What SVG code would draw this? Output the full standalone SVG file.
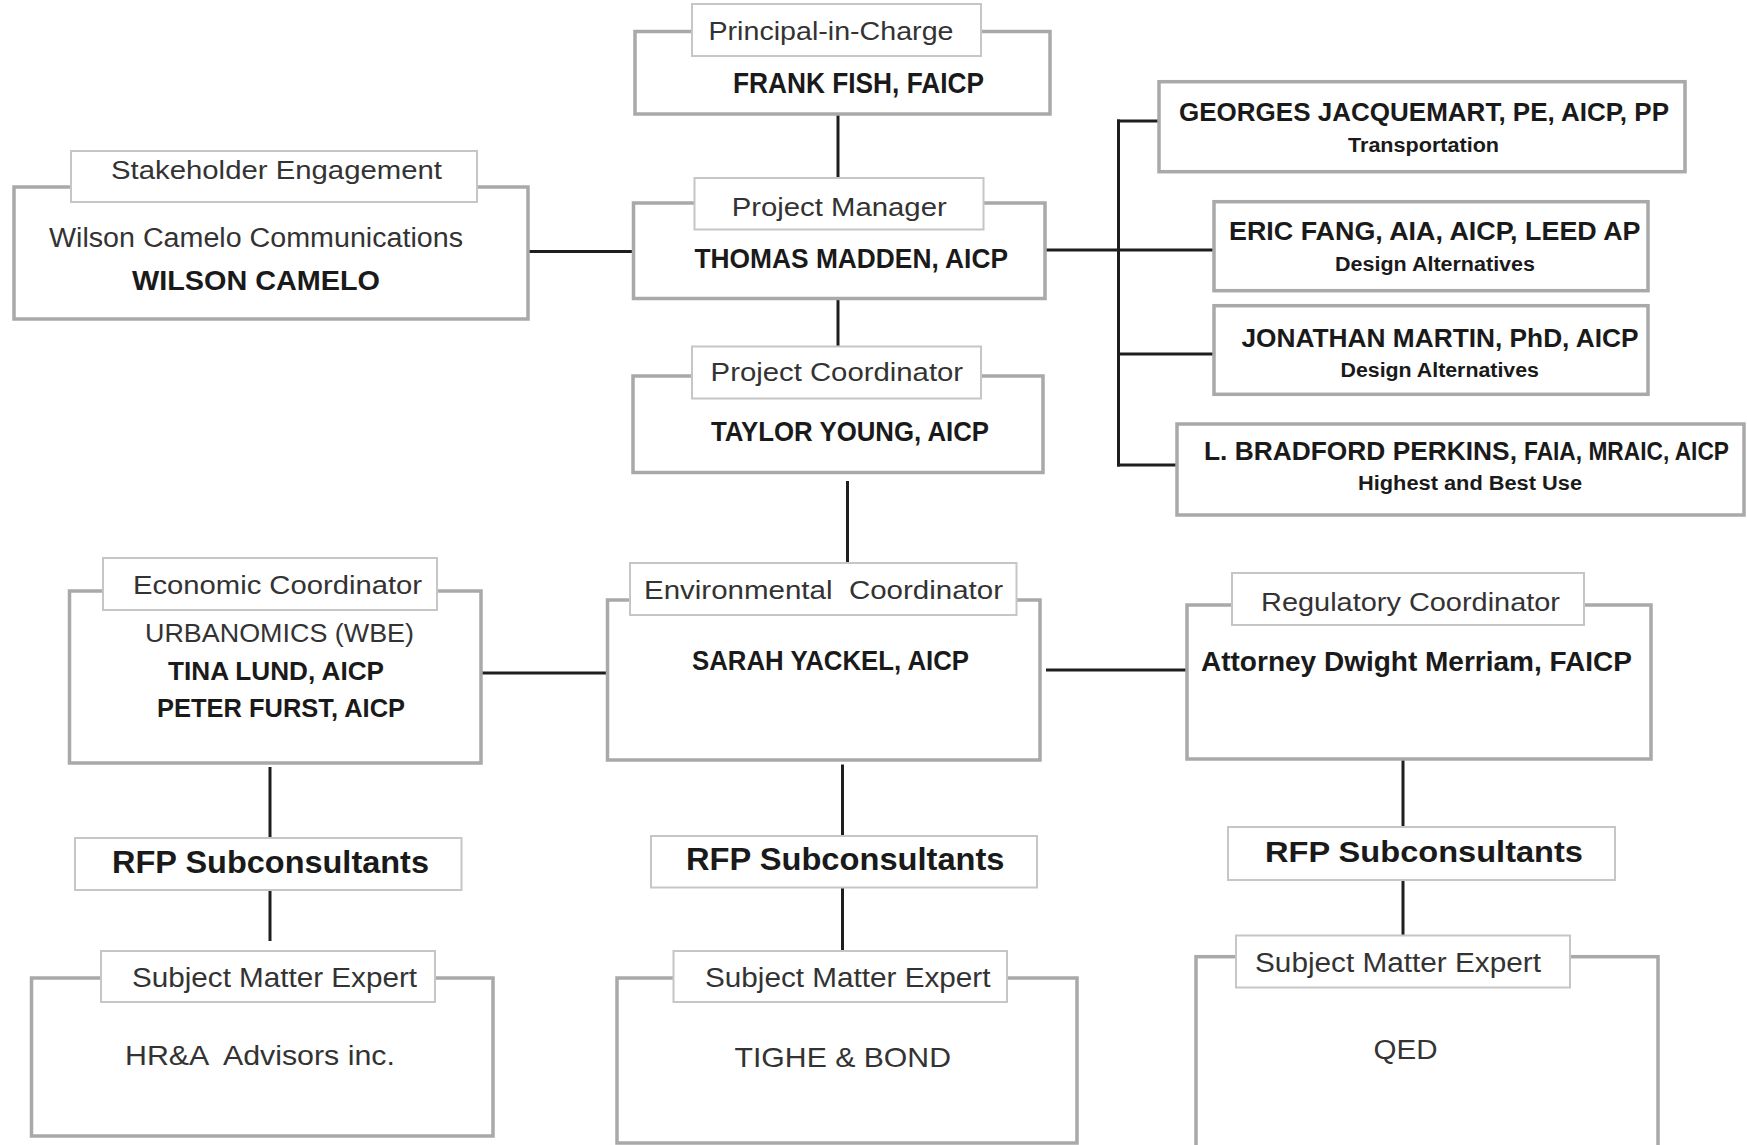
<svg xmlns="http://www.w3.org/2000/svg" width="1747" height="1145" viewBox="0 0 1747 1145">
<style>
.main{fill:#fff;stroke:#a9a9a9;stroke-width:3.5}
.lab{fill:#fff;stroke:#c6c6c6;stroke-width:2}
.t{font-family:"Liberation Sans",Arial,sans-serif;fill:#333}
.b{font-family:"Liberation Sans",Arial,sans-serif;font-weight:bold;fill:#1a1a1a}
.c line{stroke:#1e1e1e;stroke-width:3}
</style>
<rect width="1747" height="1145" fill="#fff"/>
<g class="c" id="connectors">
<line x1="838" y1="114" x2="838" y2="178"/>
<line x1="528" y1="251.5" x2="633.5" y2="251.5"/>
<line x1="838" y1="298.5" x2="838" y2="346.5"/>
<line x1="1045" y1="250" x2="1214" y2="250"/>
<line x1="1118.5" y1="119.5" x2="1118.5" y2="466.5"/>
<line x1="1117" y1="121" x2="1159" y2="121"/>
<line x1="1118.5" y1="354" x2="1214" y2="354"/>
<line x1="1117" y1="465" x2="1177" y2="465"/>
<line x1="847.5" y1="481" x2="847.5" y2="563"/>
<line x1="481" y1="673" x2="607.5" y2="673"/>
<line x1="1046" y1="670" x2="1189" y2="670"/>
<line x1="270" y1="767" x2="270" y2="838"/>
<line x1="842.5" y1="764.5" x2="842.5" y2="836"/>
<line x1="1403" y1="759" x2="1403" y2="827"/>
<line x1="270" y1="890" x2="270" y2="941"/>
<line x1="842.5" y1="887.5" x2="842.5" y2="951"/>
<line x1="1403" y1="880" x2="1403" y2="935.5"/>
</g>
<g id="principal">
<rect class="main" x="635" y="31.5" width="415" height="82.5"/>
<rect class="lab" x="692" y="4" width="289" height="52"/>
<text class="t" x="708.5" y="40" font-size="25.5" textLength="245" lengthAdjust="spacingAndGlyphs">Principal-in-Charge</text>
<text class="b" x="733" y="93" font-size="29.5" textLength="251" lengthAdjust="spacingAndGlyphs">FRANK FISH, FAICP</text>
</g>
<g id="project-manager">
<rect class="main" x="633.5" y="203" width="411.5" height="95.5"/>
<rect class="lab" x="694.5" y="178" width="289" height="51.5"/>
<text class="t" x="731.7" y="215.5" font-size="25.5" textLength="215" lengthAdjust="spacingAndGlyphs">Project Manager</text>
<text class="b" x="694.5" y="268" font-size="27.5" textLength="313.5" lengthAdjust="spacingAndGlyphs">THOMAS MADDEN, AICP</text>
</g>
<g id="project-coordinator">
<rect class="main" x="633" y="376" width="410" height="96.5"/>
<rect class="lab" x="692" y="346.5" width="289" height="52"/>
<text class="t" x="710.6" y="381" font-size="25.5" textLength="252.5" lengthAdjust="spacingAndGlyphs">Project Coordinator</text>
<text class="b" x="711" y="441" font-size="28.5" textLength="278" lengthAdjust="spacingAndGlyphs">TAYLOR YOUNG, AICP</text>
</g>
<g id="stakeholder">
<rect class="main" x="14" y="187" width="514" height="132"/>
<rect class="lab" x="71" y="151" width="406" height="51"/>
<text class="t" x="111" y="179" font-size="26.5" textLength="331" lengthAdjust="spacingAndGlyphs">Stakeholder Engagement</text>
<text class="t" x="49" y="247" font-size="27" fill="#222" textLength="414" lengthAdjust="spacingAndGlyphs">Wilson Camelo Communications</text>
<text class="b" x="132" y="289.5" font-size="28.5" textLength="248" lengthAdjust="spacingAndGlyphs">WILSON CAMELO</text>
</g>
<g id="jacquemart">
<rect class="main" x="1159" y="81.7" width="526" height="90"/>
<text class="b" x="1179" y="121" font-size="25" textLength="490" lengthAdjust="spacingAndGlyphs">GEORGES JACQUEMART, PE, AICP, PP</text>
<text class="b" x="1348" y="151.7" font-size="20" textLength="151" lengthAdjust="spacingAndGlyphs">Transportation</text>
</g>
<g id="fang">
<rect class="main" x="1214" y="201.7" width="434" height="89"/>
<text class="b" x="1229" y="240" font-size="25" textLength="411.5" lengthAdjust="spacingAndGlyphs">ERIC FANG, AIA, AICP, LEED AP</text>
<text class="b" x="1335" y="270.7" font-size="20" textLength="200" lengthAdjust="spacingAndGlyphs">Design Alternatives</text>
</g>
<g id="martin">
<rect class="main" x="1214" y="305.7" width="434" height="88.6"/>
<text class="b" x="1241.5" y="346.7" font-size="25" textLength="397" lengthAdjust="spacingAndGlyphs">JONATHAN MARTIN, PhD, AICP</text>
<text class="b" x="1340.5" y="376.7" font-size="20" textLength="198.5" lengthAdjust="spacingAndGlyphs">Design Alternatives</text>
</g>
<g id="perkins">
<rect class="main" x="1177" y="424" width="567" height="91"/>
<text class="b" x="1204" y="460" font-size="25" textLength="313" lengthAdjust="spacingAndGlyphs">L. BRADFORD PERKINS,</text>
<text class="b" x="1524" y="460" font-size="25" textLength="205" lengthAdjust="spacingAndGlyphs">FAIA, MRAIC, AICP</text>
<text class="b" x="1358" y="490" font-size="20" textLength="224" lengthAdjust="spacingAndGlyphs">Highest and Best Use</text>
</g>
<g id="economic">
<rect class="main" x="69.5" y="591" width="411.5" height="172"/>
<rect class="lab" x="103" y="558" width="334" height="52"/>
<text class="t" x="133" y="594" font-size="26.5" textLength="289" lengthAdjust="spacingAndGlyphs">Economic Coordinator</text>
<text class="t" x="145" y="642" font-size="26.5" textLength="269" lengthAdjust="spacingAndGlyphs">URBANOMICS (WBE)</text>
<text class="b" x="168" y="680" font-size="26.5" textLength="216" lengthAdjust="spacingAndGlyphs">TINA LUND, AICP</text>
<text class="b" x="157" y="717" font-size="26.5" textLength="248" lengthAdjust="spacingAndGlyphs">PETER FURST, AICP</text>
</g>
<g id="environmental">
<rect class="main" x="607.5" y="600" width="432.5" height="160"/>
<rect class="lab" x="630" y="563" width="386.5" height="52"/>
<text class="t" x="644" y="599" font-size="26.5" style="white-space:pre" textLength="359" lengthAdjust="spacingAndGlyphs">Environmental  Coordinator</text>
<text class="b" x="692" y="670" font-size="27.5" textLength="277" lengthAdjust="spacingAndGlyphs">SARAH YACKEL, AICP</text>
</g>
<g id="regulatory">
<rect class="main" x="1187" y="605" width="464" height="154"/>
<rect class="lab" x="1232" y="573" width="352" height="52"/>
<text class="t" x="1261" y="611" font-size="26" textLength="299" lengthAdjust="spacingAndGlyphs">Regulatory Coordinator</text>
<text class="b" x="1201" y="671" font-size="27" textLength="431" lengthAdjust="spacingAndGlyphs">Attorney Dwight Merriam, FAICP</text>
</g>
<g id="rfp-left">
<rect class="lab" x="75" y="838" width="386.5" height="52"/>
<text class="b" x="112" y="872.5" font-size="30.5" textLength="317" lengthAdjust="spacingAndGlyphs">RFP Subconsultants</text>
</g>
<g id="rfp-mid">
<rect class="lab" x="651" y="836" width="386" height="51.5"/>
<text class="b" x="686" y="870" font-size="30.5" textLength="318.5" lengthAdjust="spacingAndGlyphs">RFP Subconsultants</text>
</g>
<g id="rfp-right">
<rect class="lab" x="1228" y="827" width="387" height="53"/>
<text class="b" x="1265" y="862" font-size="30" textLength="318" lengthAdjust="spacingAndGlyphs">RFP Subconsultants</text>
</g>
<g id="sme-left">
<rect class="main" x="31.5" y="978" width="461.5" height="158"/>
<rect class="lab" x="101" y="951" width="334" height="51"/>
<text class="t" x="132" y="987" font-size="27.5" textLength="285" lengthAdjust="spacingAndGlyphs">Subject Matter Expert</text>
<text class="t" x="125" y="1065" font-size="28.5" fill="#111" style="white-space:pre" textLength="270" lengthAdjust="spacingAndGlyphs">HR&amp;A  Advisors inc.</text>
</g>
<g id="sme-mid">
<rect class="main" x="617" y="978" width="460" height="165"/>
<rect class="lab" x="673.5" y="951" width="333.5" height="51"/>
<text class="t" x="705" y="987" font-size="27.5" textLength="285.5" lengthAdjust="spacingAndGlyphs">Subject Matter Expert</text>
<text class="t" x="734.5" y="1066.6" font-size="28.5" fill="#111" textLength="216.5" lengthAdjust="spacingAndGlyphs">TIGHE &amp; BOND</text>
</g>
<g id="sme-right">
<rect class="main" x="1196" y="956.7" width="462" height="200"/>
<rect class="lab" x="1236" y="935.5" width="334" height="52"/>
<text class="t" x="1255" y="972" font-size="27" textLength="286" lengthAdjust="spacingAndGlyphs">Subject Matter Expert</text>
<text class="t" x="1373.5" y="1059" font-size="27" fill="#111" textLength="64" lengthAdjust="spacingAndGlyphs">QED</text>
</g>
</svg>
